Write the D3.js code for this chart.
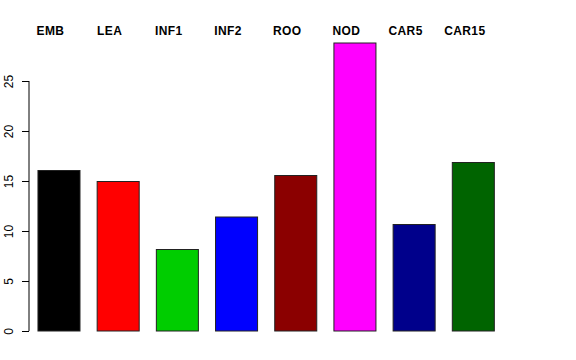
<!DOCTYPE html>
<meta charset="utf-8">
<style>
body { margin: 0; background: #fff; }
text { font-family: "Liberation Sans", Arial, sans-serif; }
</style>
<svg width="576" height="360" class="top"></svg>
<script src="https://d3js.org/d3.v7.min.js"></script>
<script>

var categories = ["EMB", "LEA", "INF1", "INF2", "ROO", "NOD", "CAR5", "CAR15"];
var values = [16.05, 14.95, 8.15, 11.4, 15.55, 28.8, 10.65, 16.85];
var colors = ["#000000", "#FF0000", "#00CD00", "#0000FF", "#8B0000", "#FF00FF", "#00008B", "#006400"];
var yTicks = [0, 5, 10, 15, 20, 25];

var svg = d3.select(".top");

var x = d3.scaleBand()
    .domain(categories)
    .range([20.8, 511.5])
    .paddingInner(0.29)
    .paddingOuter(0.29);

var y = d3.scaleLinear()
    .domain([0, 25])
    .range([331, 81]);

// bars
svg.selectAll(".bar")
  .data(categories)
  .enter().append("rect")
    .attr("class", "bar")
    .attr("x", function(d) { return x(d); })
    .attr("width", x.bandwidth())
    .attr("y", function(d, i) { return y(values[i]); })
    .attr("height", function(d, i) { return y(0) - y(values[i]); })
    .attr("fill", function(d, i) { return colors[i]; })
    .attr("stroke", "#222")
    .attr("stroke-width", 1);

// y axis, R style
var yAxis = svg.append("g")
    .attr("transform", "translate(29,0)")
    .call(d3.axisLeft(y).tickValues(yTicks).tickSize(7).tickPadding(0));

yAxis.select(".domain").attr("d", "M0," + y(0) + "V" + y(25)).attr("stroke", "#000");
yAxis.selectAll(".tick line").attr("stroke", "#000");
yAxis.selectAll(".tick text")
    .attr("x", 0)
    .attr("dy", 0)
    .attr("transform", "translate(-16.5,0) rotate(-90)")
    .attr("text-anchor", "middle")
    .style("font-family", "'Liberation Sans', Arial, sans-serif")
    .style("font-size", "12px")
    .attr("fill", "#000");

// category labels on top
svg.selectAll(".lab")
  .data(categories)
  .enter().append("text")
    .attr("class", "lab")
    .attr("x", function(d) { return x(d) + x.bandwidth() / 2 - 8.5; })
    .attr("y", 34.5)
    .attr("text-anchor", "middle")
    .style("font-size", "12px")
    .style("font-weight", "bold")
    .style("letter-spacing", "0.4px")
    .text(function(d) { return d; });

</script>
